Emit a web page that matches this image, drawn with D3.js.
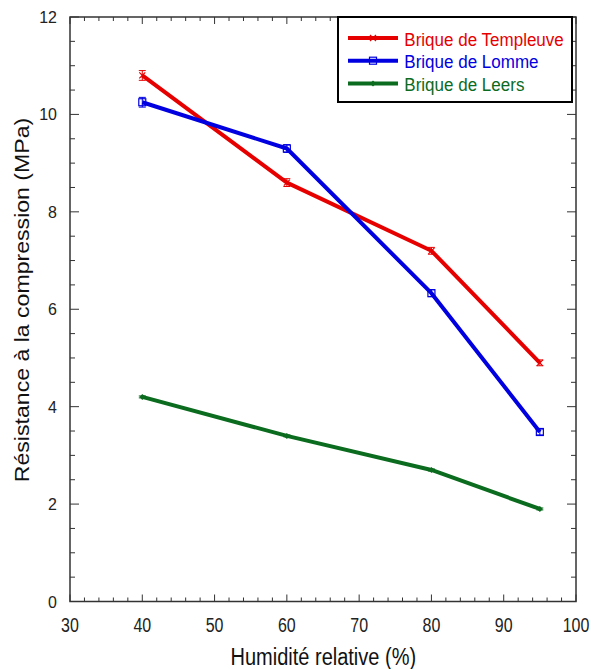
<!DOCTYPE html>
<html>
<head>
<meta charset="utf-8">
<script src="https://cdn.jsdelivr.net/npm/d3@7"></script>
<style>
  body { margin: 0; background: #fff; }
  svg text { font-family: "Liberation Sans", Arial, sans-serif; }
</style>
</head>
<body>
<div class="c_chart"></div>
<script>
/* DATA */
const humidite = [40, 60, 80, 95];
const templeuve = [10.8, 8.6, 7.2, 4.9];
const lomme = [10.25, 9.3, 6.33, 3.48];
const leers = [4.2, 3.4, 2.7, 1.9];
const erreur = [0.1, 0.08, 0.07, 0.06];
const seriesNames = ["Brique de Templeuve", "Brique de Lomme", "Brique de Leers"];
const xTicks = [30, 40, 50, 60, 70, 80, 90, 100];
const yTicks = [0, 2, 4, 6, 8, 10, 12];

/* SVG */
const width = 591, height = 669;

let svg = d3.select(".c_chart").append("svg")
  .attr("width", width)
  .attr("height", height);

let x = d3.scaleLinear().domain([30, 100]).range([70, 576]);
let y = d3.scaleLinear().domain([0, 12]).range([601.5, 17]);

const axisCol = "#333";

// text squeezed horizontally (the original picture is stretched vertically)
function label(sel, tx, ty, sx, rot) {
  return sel.append("text")
    .attr("transform", "translate(" + tx + "," + ty + ")" + (rot ? " rotate(" + rot + ")" : "") + " scale(" + sx + ",1)");
}

/* ticks (inward) */
let g = svg.append("g");
d3.range(30, 100.1, 2).forEach(function(v) {
  let len = v % 10 === 0 ? 7 : 4;
  g.append("line").attr("x1", x(v)).attr("x2", x(v))
    .attr("y1", y(0)).attr("y2", y(0) - len)
    .attr("stroke", axisCol).attr("stroke-width", 1);
  g.append("line").attr("x1", x(v)).attr("x2", x(v))
    .attr("y1", y(12)).attr("y2", y(12) + len)
    .attr("stroke", axisCol).attr("stroke-width", 1);
});
d3.range(0, 12.01, 0.5).forEach(function(v) {
  let len = v % 2 === 0 ? 9 : 5;
  g.append("line").attr("x1", x(30)).attr("x2", x(30) + len)
    .attr("y1", y(v)).attr("y2", y(v))
    .attr("stroke", axisCol).attr("stroke-width", 1);
  g.append("line").attr("x1", x(100)).attr("x2", x(100) - len)
    .attr("y1", y(v)).attr("y2", y(v))
    .attr("stroke", axisCol).attr("stroke-width", 1);
});

/* frame */
svg.append("rect")
  .attr("x", x(30)).attr("y", y(12))
  .attr("width", x(100) - x(30)).attr("height", y(0) - y(12))
  .attr("fill", "none").attr("stroke", axisCol).attr("stroke-width", 1.5);

/* tick labels */
xTicks.forEach(function(d) {
  label(svg, x(d), y(0) + 30, 0.82)
    .attr("text-anchor", "middle").attr("font-size", 19.5).attr("fill", "#222")
    .text(d);
});
yTicks.forEach(function(d) {
  label(svg, x(30) - 13, y(d) + 6, 0.94)
    .attr("text-anchor", "end").attr("font-size", 17).attr("fill", "#222")
    .text(d);
});

/* axis titles */
label(svg, 323.3, 664.5, 0.87)
  .attr("text-anchor", "middle").attr("font-size", 23).attr("fill", "#111")
  .text("Humidité relative (%)");
label(svg, 28.5, 300, 1.1, -90)
  .attr("text-anchor", "middle").attr("font-size", 21).attr("fill", "#111")
  .text("Résistance à la compression (MPa)");

/* series */
const series = [
  {name: seriesNames[0], values: templeuve, color: "#e60000", marker: "x"},
  {name: seriesNames[1], values: lomme, color: "#0000e0", marker: "square"},
  {name: seriesNames[2], values: leers, color: "#0b6b1e", marker: "diamond"}
];

let line = d3.line().x(d => x(d[0])).y(d => y(d[1]));

function drawMarker(sel, type, cx, cy, color) {
  if (type === "x") {
    sel.append("path")
      .attr("d", "M" + (cx - 3) + "," + (cy - 3) + "L" + (cx + 3) + "," + (cy + 3) +
                 "M" + (cx + 3) + "," + (cy - 3) + "L" + (cx - 3) + "," + (cy + 3))
      .attr("stroke", color).attr("stroke-width", 1.2).attr("fill", "none");
  } else if (type === "square") {
    sel.append("rect").attr("x", cx - 3.5).attr("y", cy - 3.5)
      .attr("width", 7).attr("height", 7)
      .attr("fill", "none").attr("stroke", color).attr("stroke-width", 1.2);
  } else {
    sel.append("path")
      .attr("d", "M" + cx + "," + (cy - 3) + "L" + (cx + 3) + "," + cy +
                 "L" + cx + "," + (cy + 3) + "L" + (cx - 3) + "," + cy + "Z")
      .attr("fill", color);
  }
}

series.forEach(function(s) {
  let pts = humidite.map((h, i) => [h, s.values[i]]);
  svg.append("path").datum(pts)
    .attr("d", line)
    .attr("fill", "none").attr("stroke", s.color)
    .attr("stroke-width", 4).attr("stroke-linejoin", "round");
  let m = svg.append("g");
  pts.forEach(function(p, i) {
    let cx = x(p[0]), cy = y(p[1]);
    let e = s.marker === "diamond" ? 0.02 : erreur[i];
    m.append("line").attr("x1", cx).attr("x2", cx)
      .attr("y1", y(p[1] - e)).attr("y2", y(p[1] + e))
      .attr("stroke", s.color).attr("stroke-width", 1);
    [p[1] - e, p[1] + e].forEach(function(v) {
      m.append("line").attr("x1", cx - 3.5).attr("x2", cx + 3.5)
        .attr("y1", y(v)).attr("y2", y(v))
        .attr("stroke", s.color).attr("stroke-width", 1);
    });
    drawMarker(m, s.marker, cx, cy, s.color);
  });
});

/* legend */
let leg = svg.append("g").attr("transform", "translate(338,17)");
leg.append("rect").attr("width", 234).attr("height", 85)
  .attr("fill", "#fff").attr("stroke", "#000").attr("stroke-width", 2);
series.forEach(function(s, i) {
  let ly = 21 + i * 22.7;
  leg.append("line").attr("x1", 10).attr("x2", 60)
    .attr("y1", ly).attr("y2", ly)
    .attr("stroke", s.color).attr("stroke-width", 4);
  drawMarker(leg, s.marker, 35, ly, s.color);
  label(leg, 66.3, ly + 7.7, 0.92)
    .attr("font-size", 18.5).attr("fill", s.color)
    .text(s.name);
});
</script>
</body>
</html>
